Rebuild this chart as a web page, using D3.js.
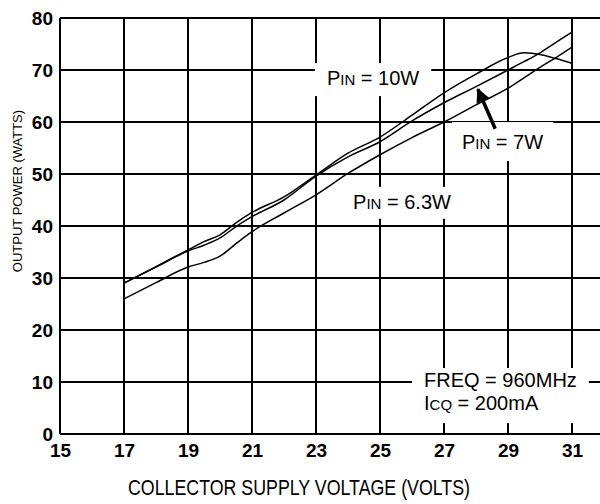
<!DOCTYPE html>
<html>
<head>
<meta charset="utf-8">
<script src="https://cdn.jsdelivr.net/npm/d3@7"></script>
<style>
  html, body { margin: 0; padding: 0; background: #fff; overflow: hidden; }
  svg { display: block; font-family: "Liberation Sans", Arial, sans-serif; }
</style>
</head>
<body>
<svg id="chart" width="600" height="504"></svg>
<script>
// ---- data ----
const volts = [17, 18, 19, 19.5, 20, 20.5, 21, 22, 23, 24, 25, 26, 27, 28, 29, 29.5, 30, 30.5, 31];
const pin10W = [29.0, 32.2, 35.4, 37.0, 38.3, 40.6, 42.6, 45.6, 49.8, 54.0, 57.1, 61.3, 65.6, 69.2, 72.4, 73.3, 73.0, 72.2, 71.3];
const pin7W = [29.0, 32.1, 35.2, 36.3, 37.7, 39.9, 41.8, 45.0, 49.6, 53.3, 56.2, 60.2, 63.7, 66.8, 70.0, 71.6, 73.3, 75.3, 77.3];
const pin63W = [26.0, 29.1, 32.1, 33.0, 34.2, 36.6, 38.9, 42.5, 46.0, 50.1, 53.7, 57.0, 60.0, 63.3, 66.5, 68.5, 70.5, 72.4, 74.4];
const xTicks = [15, 17, 19, 21, 23, 25, 27, 29, 31];
const yTicks = [0, 10, 20, 30, 40, 50, 60, 70, 80];
const xTitle = "COLLECTOR SUPPLY VOLTAGE (VOLTS)";
const yTitle = "OUTPUT POWER (WATTS)";

const svg = d3.select("#chart");
const x = d3.scaleLinear().domain([15, 33]).range([60, 636]);
const y = d3.scaleLinear().domain([0, 80]).range([434, 18]);

// grid
const grid = svg.append("g");
grid.selectAll("line.v").data(d3.range(15, 34, 2)).join("line")
  .attr("x1", d => x(d)).attr("x2", d => x(d))
  .attr("y1", y(0)).attr("y2", y(80))
  .attr("stroke", "#000").attr("stroke-width", 2);
grid.selectAll("line.h").data(yTicks).join("line")
  .attr("x1", x(15)).attr("x2", x(33))
  .attr("y1", d => y(d)).attr("y2", d => y(d))
  .attr("stroke", "#000").attr("stroke-width", 2);

// axes tick labels (D3 axes, domain/ticks hidden)
const xAxis = svg.append("g").attr("transform", `translate(0,${y(0)})`)
  .call(d3.axisBottom(x).tickValues(xTicks).tickSize(0).tickPadding(10));
xAxis.select(".domain").remove();
xAxis.selectAll("text").attr("font-size", 19).attr("font-weight", "bold")
  .attr("font-family", "Liberation Sans, Arial, sans-serif").attr("fill", "#000");

const yAxis = svg.append("g").attr("transform", `translate(${x(15)},0)`)
  .call(d3.axisLeft(y).tickValues(yTicks).tickSize(0).tickPadding(7));
yAxis.select(".domain").remove();
yAxis.selectAll("text").attr("font-size", 19).attr("font-weight", "bold")
  .attr("font-family", "Liberation Sans, Arial, sans-serif").attr("fill", "#000");

// curves
const line = d3.line().x(d => x(d[0])).y(d => y(d[1])).curve(d3.curveMonotoneX);
[pin10W, pin7W, pin63W].forEach(s => {
  svg.append("path").datum(volts.map((v, i) => [v, s[i]]))
    .attr("d", line).attr("fill", "none").attr("stroke", "#000").attr("stroke-width", 1.5);
});

// labels with white backgrounds
function label(parts, vx, py) {
  const g = svg.append("g");
  const rect = g.append("rect").attr("fill", "#fff");
  const t = g.append("text").attr("x", x(vx)).attr("y", y(py)).attr("font-size", 20).attr("fill", "#000");
  parts.forEach(p => t.append("tspan").attr("font-size", p[1]).text(p[0]));
  return {g, rect, t};
}
function boxify(items, padX, padTop, padBot) {
  let x0 = Infinity, y0 = Infinity, x1 = -Infinity, y1 = -Infinity;
  items.forEach(it => { const b = it.t.node().getBBox();
    x0 = Math.min(x0, b.x); y0 = Math.min(y0, b.y); x1 = Math.max(x1, b.x + b.width); y1 = Math.max(y1, b.y + b.height); });
  items[0].rect.attr("x", x0 - padX).attr("y", y0 - padTop).attr("width", x1 - x0 + 2 * padX).attr("height", y1 - y0 + padTop + padBot);
}
const l10 = label([["P", 20], ["IN", 15], [" = 10W", 20]], 23.34, 67.1);
boxify([l10], 12, 4, 7);
const l7 = label([["P", 20], ["IN", 15], [" = 7W", 20]], 27.56, 54.8);
boxify([l7], 10, 9, 8);
const l63 = label([["P", 20], ["IN", 15], [" = 6.3W", 20]], 24.16, 43.3);
boxify([l63], 10, 4, 6);
const lf = label([["FREQ = 960MHz", 20]], 26.375, 9.04);
const li = label([["I", 20], ["CQ", 15], [" = 200mA", 20]], 26.375, 4.6);
boxify([lf, li], 12, 1, 9);
lf.g.raise(); li.g.raise();

// arrow
const defs = svg.append("defs");
defs.append("marker").attr("id", "ah").attr("viewBox", "0 0 10 10").attr("refX", 9).attr("refY", 5)
  .attr("markerWidth", 4).attr("markerHeight", 4).attr("markerUnits", "strokeWidth").attr("orient", "auto")
  .append("path").attr("d", "M0,0 L10,5 L0,10 z").attr("fill", "#000");
svg.append("line").attr("x1", x(28.6)).attr("y1", y(58.7)).attr("x2", x(28.06)).attr("y2", y(66.3))
  .attr("stroke", "#000").attr("stroke-width", 3.5).attr("marker-end", "url(#ah)");

// axis titles
svg.append("text").attr("x", 128).attr("y", 495).attr("font-size", 22)
  .attr("textLength", 342).attr("lengthAdjust", "spacingAndGlyphs").attr("fill", "#000").text(xTitle);
svg.append("text").attr("transform", "translate(22,191) rotate(-90)").attr("text-anchor", "middle")
  .attr("font-size", 13).attr("fill", "#000").text(yTitle);
</script>
</body>
</html>
